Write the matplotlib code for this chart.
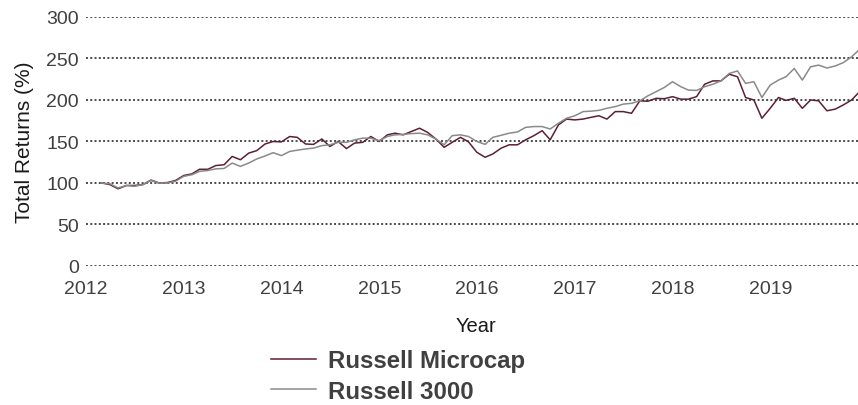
import numpy as np
import pandas as pd
import matplotlib
matplotlib.use('Agg')
import matplotlib.pyplot as plt
import matplotlib.dates as mdates

plt.rcParams['font.family'] = ['Liberation Sans', 'DejaVu Sans']

# monthly total returns, indexed to 100, Feb 2012 .. Nov 2019
microcap = [100, 98, 93, 97, 97, 98, 103.5, 100, 100.5, 103, 109,
            111, 116.5, 116.5, 121, 122, 132, 128, 136, 139, 147, 150, 149.5,
            156, 155, 147, 146.5, 153, 144, 150, 141.5, 148, 149, 156, 150,
            158, 160, 158, 162, 166, 161, 153, 143, 149, 155, 149.5, 137,
            131, 135, 142, 146, 146, 152, 157, 163, 152, 170, 177, 176,
            177, 179, 181, 177, 186, 186, 184, 199, 198.5, 202, 201.5, 204,
            201, 201, 204, 219, 223, 223, 231, 228, 203, 200, 178, 190,
            203, 199.5, 202, 190, 200, 199, 187, 189, 194, 200, 210]
russell3000 = [100, 99, 94, 97, 96, 98, 103, 100, 100, 102, 108,
               110, 114, 115, 117, 117.5, 124, 120, 124, 129, 132.5, 136.5, 133,
               138, 139.5, 141, 142, 145, 146, 149, 149, 152, 154, 154, 151,
               156, 158, 158.5, 159.5, 160, 158, 153, 146, 157, 158, 156, 150,
               146.5, 155, 157.5, 160, 161.5, 167, 168, 168, 165, 172, 178, 181,
               186, 186.5, 187.5, 190, 192, 195, 196, 199, 205, 210, 215, 222,
               216, 212, 211.5, 216, 219, 223, 232, 235, 220, 222, 203, 218,
               224, 228, 238, 224, 240, 242, 238.5, 241, 245, 252, 261]
yticks = [0, 50, 100, 150, 200, 250, 300]

months = pd.date_range('2012-02-29', periods=len(microcap), freq=pd.offsets.MonthEnd())

fig = plt.figure(figsize=(8.58, 4.06), dpi=100)
ax = fig.add_axes([86 / 858, 0.3424, 1 - 86 / 858, 0.6133])

ax.plot(months, microcap, color='#5c1f38', lw=1.1, solid_joinstyle='round',
        label='Russell Microcap')
ax.plot(months, russell3000, color='#8a8a8a', lw=1.1, solid_joinstyle='round',
        label='Russell 3000')

ax.set_ylim(0, 300)
ax.set_yticks(yticks)
ax.set_xlim(pd.Timestamp('2012-01-01'), pd.Timestamp('2019-11-24'))
ax.xaxis.set_major_locator(mdates.YearLocator())
ax.xaxis.set_major_formatter(mdates.DateFormatter('%Y'))

ax.grid(axis='y', linestyle=(0, (1, 1.2)), color='#4a4a4a', lw=1.4)
ax.set_axisbelow(True)
for s in ax.spines.values():
    s.set_visible(False)
ax.tick_params(axis='both', length=0, labelsize=14, colors='#404040')
ax.tick_params(axis='x', pad=10)
ax.tick_params(axis='y', pad=5)

ax.set_xlabel('Year', fontsize=14.5, color='#1a1a1a')
ax.xaxis.set_label_coords(0.505, -0.2)
ax.set_ylabel('Total Returns (%)', fontsize=15, color='#1a1a1a')
ax.yaxis.set_label_coords(-0.068, 0.5)

leg = fig.legend(loc='center', bbox_to_anchor=(398 / 858, 1 - 377 / 406),
                 frameon=False, prop={'weight': 'bold', 'size': 17.3},
                 handlelength=1.9, handletextpad=0.5, labelspacing=0.32)
for t in leg.get_texts():
    t.set_color('#404040')

fig.savefig('out.png', dpi=100)
